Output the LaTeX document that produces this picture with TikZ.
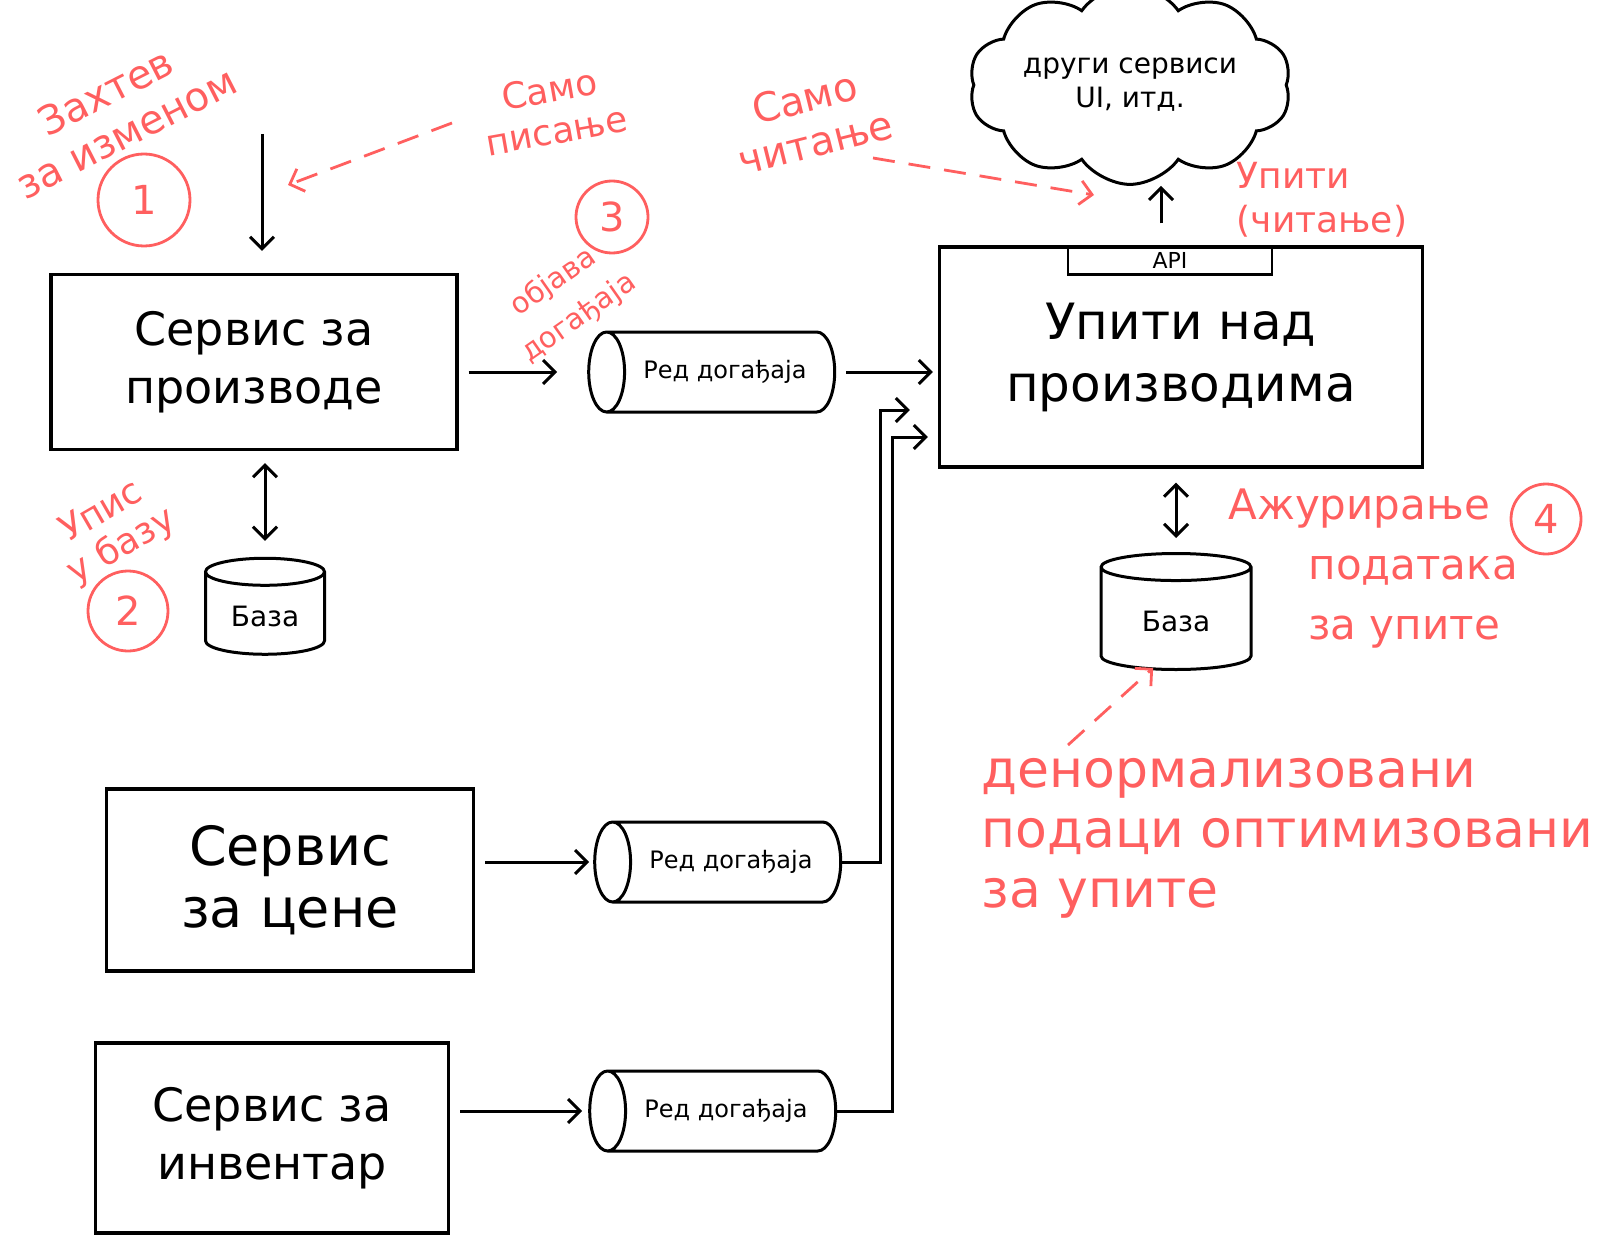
\documentclass[tikz,border=0pt]{standalone}
\usepackage{fontspec}
\setmainfont{DejaVu Sans}
\usetikzlibrary{shapes.geometric,shapes.symbols,arrows.meta,positioning}
\definecolor{marker}{HTML}{FF5F5F}

\begin{document}
\begin{tikzpicture}[x=1pt, y=-1pt, >={Straight Barb[length=12pt,width=24pt]}]
    \tikzstyle{service} = [draw, rectangle, line width=3.2pt, align=center, font=\fontsize{46}{58}\selectfont]
    \tikzstyle{queue}   = [draw, cylinder, shape border rotate=180, shape aspect=1.2, line width=3pt, minimum width=80pt, minimum height=246pt, font=\fontsize{24}{28}\selectfont]
    \tikzstyle{dbase}   = [draw, cylinder, shape border rotate=90, shape aspect=0.36, line width=3pt, font=\fontsize{28}{32}\selectfont]
    \tikzstyle{note}    = [text=marker, align=center, font=\fontsize{40}{46}\selectfont]
    \tikzstyle{num}     = [draw=marker, text=marker, circle, line width=2.8pt, inner sep=0pt, font=\fontsize{40}{40}\selectfont]
    \tikzstyle{arrow}   = [line width=3pt, ->]
    \tikzstyle{hint}    = [draw=marker, line width=2.8pt, dash pattern=on 22pt off 14pt, ->]

    \useasboundingbox (0,0) rectangle (1611,1241);

    % services
    \node [service, minimum width=406pt, minimum height=175pt] (prodsvc) at (254,362) {Сервис за\\производе};
    \node [service, minimum width=367pt, minimum height=182pt, font=\fontsize{54}{62}\selectfont] (pricesvc) at (290,880) {Сервис\\за цене};
    \node [service, minimum width=353pt, minimum height=190pt] (invsvc) at (272,1138) {Сервис за\\инвентар};
    \node [service, minimum width=483pt, minimum height=220pt, font=\fontsize{50}{62}\selectfont] (querysvc) at (1181,357) {Упити над\\производима};
    \node [draw, rectangle, line width=2.5pt, minimum width=204pt, minimum height=28pt, inner sep=0pt, font=\fontsize{22}{22}\selectfont, below=0pt of querysvc.north, xshift=-11pt] (api) {API};
    \node [draw, cloud, cloud puffs=10, cloud puff arc=110, aspect=2, line width=3pt, minimum width=318pt, minimum height=159pt, align=center, font=\fontsize{28}{34}\selectfont] (others) at (1130,85) {други сервиси\\UI, итд.};

    % queues and databases
    \node [queue] (queue1) at (725,372) {Ред догађаја};
    \node [queue] (queue2) at (731,862) {Ред догађаја};
    \node [queue] (queue3) at (726,1111) {Ред догађаја};
    \node [dbase, minimum width=119pt, minimum height=96pt] (dbleft) at (265,616) {База};
    \node [dbase, minimum width=150pt, minimum height=116pt] (dbright) at (1176,621) {База};

    % red notes
    \node [note, rotate=27] (reqnote) at (116,112) {Захтев\\за изменом};
    \node [num, minimum size=92pt] (step1) at (144,200) {1};
    \node [note, rotate=10, font=\fontsize{36}{42}\selectfont] (writenote) at (553,110) {Само\\писање};
    \node [note, rotate=30, font=\fontsize{36}{40}\selectfont] (dbnote) at (112,530) {Упис\\у базу};
    \node [num, minimum size=80pt] (step2) at (128,611) {2};
    \node [note, rotate=35, font=\fontsize{29}{44}\selectfont] (pubnote) at (566,300) {објава\\догађаја};
    \node [num, minimum size=72pt] (step3) at (612,217) {3};
    \node [note, rotate=14] (readnote) at (810,120) {Само\\читање};
    \node [note, align=left, font=\fontsize{36}{44}\selectfont] (querynote) at (1322,200) {Упити\\(читање)};
    \node [note, align=left, anchor=north west, font=\fontsize{42}{60}\selectfont] (updnote) at (1225,485) {Ажурирање\\\hspace*{80pt}података\\\hspace*{80pt}за упите};
    \node [num, minimum size=70pt] (step4) at (1546,519) {4};
    \node [note, align=left, anchor=north west, font=\fontsize{52}{60}\selectfont] (denormnote) at (978,755) {денормализовани\\подаци оптимизовани\\за упите};

    \coordinate (reqtop) at (262,134);
    \coordinate (writefrom) at (452,123);
    \coordinate (writeto) at (288,185);
    \coordinate (readfrom) at (873,158);
    \coordinate (readto) at (1094,195);
    \coordinate (denormtip) at (1068,745);

    % Connections
    \draw [arrow, shorten >=22pt] (reqtop) -- (reqtop |- prodsvc.north);
    \draw [hint] (writefrom) -- (writeto);
    \draw [arrow, <->, shorten <=12pt, shorten >=16pt] (dbleft.north |- prodsvc.south) -- (dbleft.north);
    \draw [arrow, shorten <=10pt, shorten >=30pt] (prodsvc.east |- queue1.west) -- (queue1.west);
    \draw [arrow, shorten <=10pt, shorten >=5pt] (queue1.east) -- (querysvc.west |- queue1.east);
    \draw [arrow, shorten <=10pt, shorten >=4pt] (pricesvc.east |- queue2.west) -- (queue2.west);
    \draw [arrow, shorten <=10pt, shorten >=6pt] (invsvc.east |- queue3.west) -- (queue3.west);
    \draw [arrow, shorten >=28pt] (queue2.east) -- ++(38,0) |- ([yshift=-53pt]querysvc.west);
    \draw [arrow, shorten >=10pt] (queue3.east) -- ++(55,0) |- ([yshift=-80pt]querysvc.west);
    \draw [arrow, shorten <=22pt] ([xshift=-9pt]api.north) -- ([xshift=-9pt]api.north |- others.south);
    \draw [arrow, <->, shorten <=14pt, shorten >=14pt] (dbright.north |- querysvc.south) -- (dbright.north);
    \draw [hint] (readfrom) -- (readto);
    \draw [hint] (denormtip) -- ([xshift=24pt]dbright.south west);

\end{tikzpicture}
\end{document}
